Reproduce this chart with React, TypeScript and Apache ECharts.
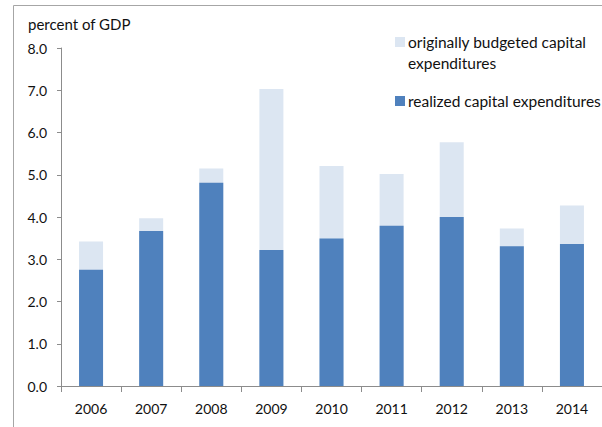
import React, { useEffect, useRef } from "react";
import * as echarts from "echarts";

const years = ["2006", "2007", "2008", "2009", "2010", "2011", "2012", "2013", "2014"];
const budgeted = [3.42, 3.97, 5.15, 7.03, 5.21, 5.02, 5.77, 3.73, 4.27];
const realized = [2.75, 3.67, 4.81, 3.22, 3.49, 3.79, 4.0, 3.31, 3.36];
const budgetedName = "originally budgeted capital expenditures";
const realizedName = "realized capital expenditures";
const yTicks = { min: 0, max: 8, interval: 1 };

const FONT = "Lato, 'Liberation Sans', sans-serif";
const AXIS_COLOR = "#8c8c8c";

export default function App() {
  const ref = useRef<HTMLDivElement>(null);
  useEffect(() => {
    document.body.style.margin = "0";
    const chart = echarts.init(ref.current!, null, { renderer: "svg" });
    chart.setOption({
      animation: false,
      textStyle: { fontFamily: FONT },
      grid: { left: 61, right: -5, top: 48, bottom: 41, containLabel: false },
      xAxis: {
        type: "category",
        data: years,
        axisLine: { lineStyle: { color: AXIS_COLOR, width: 1 } },
        axisTick: { show: true, length: 6, lineStyle: { color: AXIS_COLOR } },
        axisLabel: { color: "#111", fontSize: 14, margin: 15, fontFamily: FONT },
      },
      yAxis: {
        type: "value",
        min: yTicks.min,
        max: yTicks.max,
        interval: yTicks.interval,
        splitLine: { show: false },
        axisLine: { show: true, lineStyle: { color: AXIS_COLOR, width: 1 } },
        axisTick: { show: true, length: 4, lineStyle: { color: AXIS_COLOR } },
        axisLabel: {
          color: "#111",
          fontSize: 14,
          margin: 14,
          fontFamily: FONT,
          formatter: (v: number) => v.toFixed(1),
        },
      },
      series: [
        {
          name: budgetedName,
          type: "bar",
          data: budgeted,
          barWidth: 24,
          barGap: "-100%",
          itemStyle: { color: "#DCE6F2" },
        },
        {
          name: realizedName,
          type: "bar",
          data: realized,
          barWidth: 24,
          itemStyle: { color: "#4F81BD" },
        },
      ],
      graphic: [
        { type: "line", shape: { x1: 13.5, y1: 5.5, x2: 602, y2: 5.5 }, style: { stroke: "#a6a6a6", lineWidth: 1 } },
        { type: "line", shape: { x1: 13.5, y1: 5.5, x2: 13.5, y2: 427 }, style: { stroke: "#a6a6a6", lineWidth: 1 } },
        {
          type: "text",
          left: 28,
          top: 16,
          style: { text: "percent of GDP", fontSize: 15, fontFamily: FONT, fill: "#111" },
        },
        { type: "rect", shape: { x: 395, y: 37, width: 10, height: 10 }, style: { fill: "#DCE6F2" } },
        {
          type: "text",
          x: 408,
          y: 31,
          style: {
            text: "originally budgeted capital\nexpenditures",
            fontSize: 15.5,
            lineHeight: 21,
            fontFamily: FONT,
            fill: "#111",
          },
        },
        { type: "rect", shape: { x: 395, y: 96, width: 10, height: 10 }, style: { fill: "#4F81BD" } },
        {
          type: "text",
          x: 408,
          y: 90,
          style: { text: realizedName, fontSize: 15.5, lineHeight: 21, fontFamily: FONT, fill: "#111" },
        },
      ],
    });
    return () => chart.dispose();
  }, []);
  return <div ref={ref} style={{ width: 602, height: 427, position: "absolute", left: 0, top: 0 }} />;
}
